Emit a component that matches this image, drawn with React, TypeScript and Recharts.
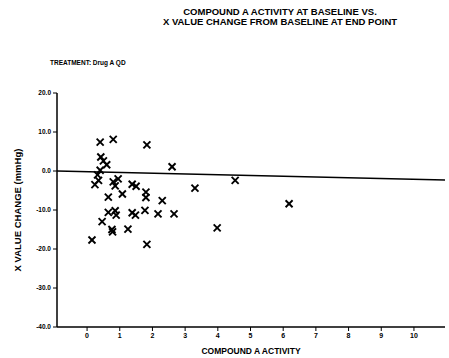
import {
  ScatterChart,
  Scatter,
  XAxis,
  YAxis,
  ReferenceLine,
} from "recharts";

const activity = [
  0.4, 0.8, 1.83, 0.42, 0.5, 0.6, 2.6, 0.4, 0.32, 0.35, 0.24, 0.8, 0.95, 0.86,
  1.38, 1.5, 1.8, 1.8, 3.3, 4.53, 0.65, 1.08, 2.3, 6.18, 0.65, 0.86, 0.89,
  1.38, 1.48, 1.77, 2.17, 2.66, 0.46, 0.76, 0.78, 1.25, 3.98, 0.15, 1.83,
];
const valueChange = [
  7.4, 8.1, 6.7, 3.6, 2.6, 1.6, 1.1, 0.2, -1.0, -2.4, -3.5, -2.8, -2.0, -3.8,
  -3.4, -3.9, -5.4, -6.8, -4.4, -2.4, -6.7, -5.9, -7.6, -8.4, -10.6, -10.2,
  -11.3, -10.7, -11.3, -10.1, -11.0, -11.0, -13.0, -15.0, -15.6, -14.9, -14.6,
  -17.7, -18.8,
];
const xTicks = [0, 1, 2, 3, 4, 5, 6, 7, 8, 9, 10];
const yTicks = [20, 10, 0, -10, -20, -30, -40];

const points = activity.map((x, i) => ({ x, y: valueChange[i] }));

const FONT = "'Liberation Sans', Arial, sans-serif";

const Cross = (props: any) => {
  const { cx, cy } = props;
  const s = 3.5;
  return (
    <g stroke="#000" strokeWidth={1.9}>
      <line x1={cx - s} y1={cy - s} x2={cx + s} y2={cy + s} />
      <line x1={cx - s} y1={cy + s} x2={cx + s} y2={cy - s} />
    </g>
  );
};

const App = () => {
  return (
    <div
      style={{
        position: "absolute",
        left: 0,
        top: 0,
        width: 449,
        height: 358,
        background: "#fff",
        fontFamily: FONT,
      }}
    >
      <div
        style={{
          position: "absolute",
          top: 7,
          left: 130,
          width: 300,
          textAlign: "center",
          fontSize: 9.5,
          fontWeight: "bold",
          lineHeight: "10px",
        }}
      >
        COMPOUND A ACTIVITY AT BASELINE VS.
        <br />
        X VALUE CHANGE FROM BASELINE AT END POINT
      </div>
      <div
        style={{
          position: "absolute",
          top: 59,
          left: 50,
          fontSize: 6.5,
          fontWeight: "bold",
        }}
      >
        TREATMENT: Drug A QD
      </div>
      <ScatterChart
        width={449}
        height={358}
        margin={{ top: 93, right: 4, bottom: 11, left: 12 }}
      >
        <XAxis
          type="number"
          dataKey="x"
          domain={[-0.92, 10.95]}
          ticks={xTicks}
          allowDataOverflow
          axisLine={{ stroke: "#000", strokeWidth: 1.5 }}
          tickLine={{ stroke: "#000" }}
          tickSize={4}
          height={20}
          tick={{ fill: "#000", fontSize: 7, fontWeight: "bold", fontFamily: FONT }}
          label={{
            value: "COMPOUND A ACTIVITY",
            position: "insideBottom",
            offset: -7,
            fill: "#000",
            fontSize: 8.5,
            fontWeight: "bold",
            fontFamily: FONT,
          }}
        />
        <YAxis
          type="number"
          dataKey="y"
          domain={[-40, 20]}
          ticks={yTicks}
          allowDataOverflow
          width={45}
          axisLine={{ stroke: "#000", strokeWidth: 1.5 }}
          tickLine={{ stroke: "#000" }}
          tickSize={4}
          tickFormatter={(v: number) => v.toFixed(1)}
          tick={{ fill: "#000", fontSize: 6.5, fontWeight: "bold", fontFamily: FONT }}
          label={{
            value: "X VALUE CHANGE (mmHg)",
            angle: -90,
            position: "insideLeft",
            offset: 6,
            style: { textAnchor: "middle" },
            fill: "#000",
            fontSize: 9.5,
            fontWeight: "bold",
            fontFamily: FONT,
          }}
        />
        <ReferenceLine
          segment={[
            { x: -0.92, y: 0 },
            { x: 10.95, y: -2.3 },
          ]}
          stroke="#000"
          strokeWidth={1.5}
        />
        <Scatter data={points} shape={<Cross />} isAnimationActive={false} />
      </ScatterChart>
    </div>
  );
};

export default App;
